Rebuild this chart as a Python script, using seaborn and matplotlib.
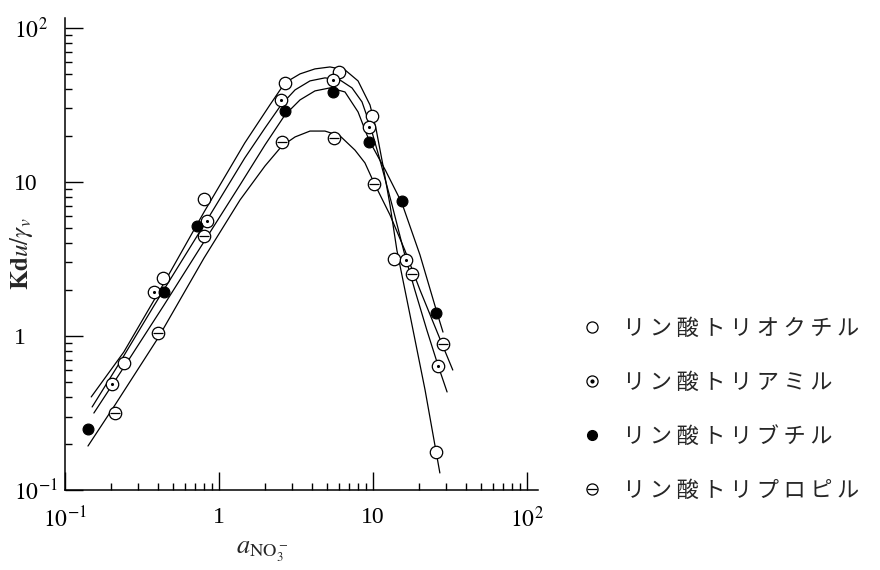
import pandas as pd
import seaborn as sns
import matplotlib.pyplot as plt
from matplotlib.lines import Line2D
from matplotlib.ticker import LogLocator, NullFormatter

sns.set_theme(style='ticks')
plt.rcParams['font.family'] = ['Liberation Serif', 'DejaVu Serif']
plt.rcParams['mathtext.fontset'] = 'stix'

names = ['リン酸トリオクチル', 'リン酸トリアミル', 'リン酸トリブチル', 'リン酸トリプロピル']

octyl_x = [0.241, 0.432, 0.80, 2.68, 6.01, 9.86, 13.7, 25.6]
octyl_y = [0.668, 2.38, 7.76, 44.0, 51.8, 26.8, 3.16, 0.177]
amyl_x = [0.202, 0.378, 0.836, 2.53, 5.50, 9.42, 16.4, 26.4]
amyl_y = [0.488, 1.93, 5.58, 34.1, 45.9, 22.8, 3.12, 0.638]
butyl_x = [0.141, 0.44, 0.719, 2.68, 5.50, 9.42, 15.4, 25.6]
butyl_y = [0.249, 1.93, 5.18, 28.9, 38.4, 18.2, 7.53, 1.41]
propyl_x = [0.211, 0.402, 0.80, 2.56, 5.58, 10.1, 17.9, 28.5]
propyl_y = [0.316, 1.04, 4.46, 18.2, 19.3, 9.70, 2.53, 0.887]

# hand-drawn fitted curves
octyl_cx = [0.148, 0.241, 0.432, 0.80, 1.47, 2.14, 2.68, 3.36, 4.20, 5.26,
            6.58, 8.00, 9.57, 10.5, 11.6, 12.9, 14.3, 17.4, 21.8, 27.2]
octyl_cy = [0.402, 0.787, 2.14, 6.38, 17.9, 31.6, 44.0, 50.3, 54.2, 55.8,
            53.4, 45.3, 31.6, 21.8, 12.9, 7.10, 3.61, 1.37, 0.446, 0.129]
amyl_cx = [0.150, 0.228, 0.378, 0.836, 1.47, 1.99, 2.53, 3.12, 3.90, 4.88,
           6.11, 7.31, 8.49, 9.57, 11.1, 13.3, 16.1, 18.7, 22.4, 26.4, 30.3]
amyl_cy = [0.346, 0.678, 1.57, 5.66, 14.3, 22.4, 31.6, 39.6, 45.3, 47.4,
           45.9, 40.8, 33.1, 23.4, 13.9, 7.10, 3.36, 1.99, 1.09, 0.649, 0.433]
butyl_cx = [0.154, 0.264, 0.440, 0.719, 1.37, 1.99, 2.68, 3.36, 4.20, 5.26,
            6.58, 8.00, 9.42, 12.0, 15.4, 20.2, 26.1, 28.5]
butyl_cy = [0.316, 0.72, 1.59, 3.46, 9.57, 17.4, 27.2, 34.1, 39.0, 40.8,
            38.4, 28.5, 18.7, 12.0, 7.31, 3.36, 1.41, 1.06]
propyl_cx = [0.141, 0.211, 0.402, 0.80, 1.37, 1.99, 2.56, 3.12, 3.90, 4.88,
             6.11, 7.64, 8.87, 10.1, 12.9, 16.1, 20.2, 28.1, 33.0]
propyl_cy = [0.193, 0.356, 0.97, 3.21, 7.64, 12.7, 17.1, 19.6, 21.4, 21.4,
             19.9, 16.1, 13.3, 10.0, 6.11, 3.61, 1.99, 0.887, 0.601]

tick_vals = [0.1, 1, 10, 100]
tick_labels = ['$10^{-1}$', '1', '10', '$10^{2}$']


fig = plt.figure(figsize=(8.8, 5.7), dpi=100)
ax = fig.add_axes([65 / 880, 1 - 490 / 570, 473 / 880, 472 / 570])

curves = [(octyl_cx, octyl_cy), (amyl_cx, amyl_cy),
          (butyl_cx, butyl_cy), (propyl_cx, propyl_cy)]
for cx, cy in curves:
    sns.lineplot(x=cx, y=cy, ax=ax, color='black', linewidth=0.9,
                 estimator=None, sort=False, zorder=1)

ms = 80
open_kw = dict(marker='o', s=ms, facecolor='white', edgecolor='black',
               linewidth=0.9, zorder=3)
sns.scatterplot(x=octyl_x, y=octyl_y, ax=ax, **open_kw)
sns.scatterplot(x=amyl_x, y=amyl_y, ax=ax, **open_kw)
sns.scatterplot(x=amyl_x, y=amyl_y, ax=ax, marker='o', s=5, color='black',
                linewidth=0, zorder=4)
sns.scatterplot(x=butyl_x, y=butyl_y, ax=ax, marker='o', s=60, color='black',
                edgecolor='black', linewidth=0.9, zorder=3)
sns.scatterplot(x=propyl_x, y=propyl_y, ax=ax, **open_kw)
sns.scatterplot(x=propyl_x, y=propyl_y, ax=ax, marker='_', s=55,
                color='black', linewidth=0.9, zorder=4)

ax.set_xscale('log')
ax.set_yscale('log')
ax.set_xlim(0.1, 118)
ax.set_ylim(0.1, 116)
for axis in (ax.xaxis, ax.yaxis):
    axis.set_major_locator(plt.FixedLocator(tick_vals))
    axis.set_major_formatter(plt.FixedFormatter(tick_labels))
    axis.set_minor_locator(LogLocator(base=10, subs=range(2, 10)))
    axis.set_minor_formatter(NullFormatter())

ax.tick_params(which='both', direction='in', width=1.0, colors='black',
               labelsize=17)
ax.tick_params(which='major', length=13)
ax.tick_params(which='minor', length=5)
ax.tick_params(axis='x', pad=12)
ax.tick_params(axis='y', pad=37)
for lab in ax.get_yticklabels():
    lab.set_horizontalalignment('left')

sns.despine(ax=ax)
for side in ('left', 'bottom'):
    ax.spines[side].set_linewidth(1.1)
    ax.spines[side].set_color('black')

ax.set_xlabel(r'$a_{\mathrm{NO_3^-}}$', fontsize=19)
ax.xaxis.set_label_coords(0.416, -0.105)
ax.set_ylabel(r'$\mathbf{Kd}\mathit{u}/\gamma_{v}$', fontsize=18)
ax.yaxis.set_label_coords(-0.063, 0.5)

jp = {'family': ['Noto Sans CJK JP', 'DejaVu Sans'], 'size': 16}
handles = [
    Line2D([], [], marker='o', ls='none', ms=8, mfc='white', mec='black', mew=0.9),
    (Line2D([], [], marker='o', ls='none', ms=8, mfc='white', mec='black', mew=0.9),
     Line2D([], [], marker='o', ls='none', ms=2, mfc='black', mec='black')),
    Line2D([], [], marker='o', ls='none', ms=7, mfc='black', mec='black'),
    (Line2D([], [], marker='o', ls='none', ms=8, mfc='white', mec='black', mew=0.9),
     Line2D([], [], marker='_', ls='none', ms=7, mec='black', mew=0.9)),
]
fig.legend(handles, ['\u2009'.join(n) for n in names], loc='center left',
           bbox_to_anchor=(0.637, 0.282), frameon=False, prop=jp,
           handlelength=1.0, handletextpad=0.9, labelspacing=1.4)

fig.savefig('out.png', dpi=100)
